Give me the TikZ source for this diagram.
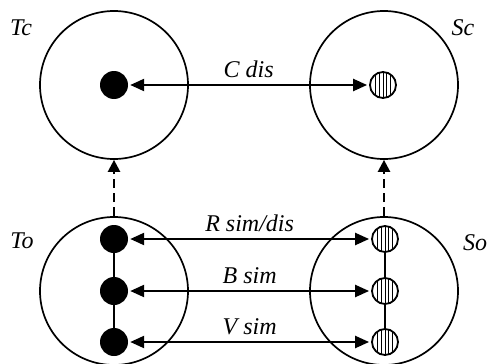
\documentclass[tikz,border=0pt]{standalone}
\usepackage{fontspec}
\setmainfont{Liberation Serif}
\usetikzlibrary{arrows.meta}
\begin{document}
\begin{tikzpicture}[x=1pt,y=-1pt,
  ring/.style={circle,draw,line width=1.7pt,minimum size=148pt,inner sep=0pt},
  soliddot/.style={circle,fill,minimum size=28pt,inner sep=0pt},
  hatchdot/.style={circle,draw,line width=1.8pt,minimum size=26pt,inner sep=0pt,
    path picture={\foreach \dx in {-7.5,-3.75,0,3.75,7.5}{
      \draw[line width=0.9pt] ([xshift=\dx pt]path picture bounding box.north)
        -- ([xshift=\dx pt]path picture bounding box.south);}}},
  link/.style={{Triangle[length=14pt,width=12pt]}-{Triangle[length=14pt,width=12pt]},
    line width=2.3pt,shorten <=2pt,shorten >=2pt},
  lift/.style={-{Triangle[length=12pt,width=12pt]},line width=2.3pt,dash pattern=on 9pt off 5pt},
  stem/.style={line width=1.8pt},
  lbl/.style={font=\fontsize{24}{28}\selectfont\itshape,inner sep=0pt},
  tag/.style={lbl,above=6pt},
]
\useasboundingbox (0,0) rectangle (490,364);

% the four rings
\node[ring] (Tc) at (114,85) {};
\node[ring] (Sc) at (384,85) {};
\node[ring] (To) at (114,291) {};
\node[ring] (So) at (384,291) {};

% ring names
\node[lbl] (tcname) at (21,28) {Tc};
\node[lbl] (scname) at (463,28) {Sc};
\node[lbl] (toname) at (22,241) {To};
\node[lbl] (soname) at (475,243) {So};

% points inside the rings
\node[soliddot] (tc) at (114,85) {};
\node[hatchdot] (sc) at (383,85) {};
\node[soliddot] (t1) at (114,239) {};
\node[soliddot] (t2) at (114,291) {};
\node[soliddot] (t3) at (114,342) {};
\node[hatchdot] (s1) at (385,239) {};
\node[hatchdot] (s2) at (385,291) {};
\node[hatchdot] (s3) at (385,342) {};

% chains
\draw[stem] (t1) -- (t2) (t2) -- (t3);
\draw[stem] (s1) -- (s2) (s2) -- (s3);

% relations
\draw[link] (tc) -- node[tag] (cdis) {C dis} (sc);
\draw[link] (t1) -- node[tag] (rsim) {R sim/dis} (s1);
\draw[link] (t2) -- node[tag] (bsim) {B sim} (s2);
\draw[link] (t3) -- node[tag] (vsim) {V sim} (s3);

% lifting arrows
\draw[lift] (To.north) -- (Tc.south);
\draw[lift] (So.north) -- (Sc.south);
\end{tikzpicture}
\end{document}
